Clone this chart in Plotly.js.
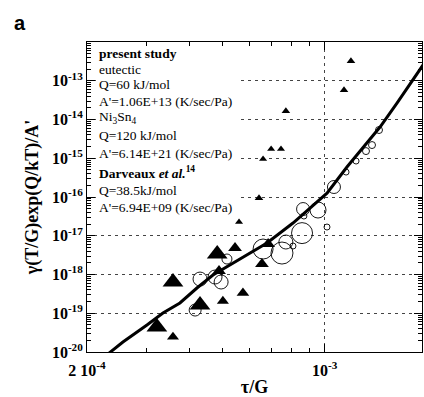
<!DOCTYPE html>
<html><head><meta charset="utf-8">
<script src="https://cdn.plot.ly/plotly-3.0.1.min.js"></script>
<style>html,body{margin:0;padding:0;background:#fff}#chart{width:424px;height:397px}</style>
</head><body><div id="chart"></div>
<script>
// ---- data ----
// eutectic / Ni3Sn4 / Darveaux data (filled triangles)
const triX = [1.195e-3, 1.140e-3, 7.69e-4, 6.96e-4, 7.44e-4, 6.59e-4, 6.41e-4, 5.60e-4,
              4.83e-4, 5.45e-4, 6.82e-4, 6.54e-4, 4.89e-4, 5.75e-4, 5.02e-4, 4.30e-4,
              3.58e-4, 3.21e-4, 3.58e-4];
const triY = [3.22e-13, 5.75e-14, 1.65e-14, 1.73e-15, 1.73e-15, 9.5e-16, 9.4e-17, 2.26e-17,
              3.37e-18, 4.82e-18, 6.11e-18, 1.86e-18, 1.23e-18, 3.32e-19, 2.07e-19, 1.63e-19,
              6.40e-19, 4.42e-20, 2.44e-20];
const triMarkerSize = [7.5, 7.5, 7.5, 7, 7, 7, 7.5, 7,
                       18, 12, 12, 12, 12, 11, 10.5, 18,
                       18, 18, 10.5];
// open circles
const circX = [1.445e-3, 1.378e-3, 1.323e-3, 1.237e-3, 1.156e-3, 1.065e-3, 8.64e-4, 9.56e-4,
               8.69e-4, 1.016e-3, 8.58e-4, 7.69e-4, 8.07e-4, 7.49e-4, 6.59e-4, 5.16e-4,
               4.30e-4, 4.76e-4, 4.96e-4, 4.16e-4];
const circY = [5.35e-15, 2.19e-15, 1.53e-15, 8.47e-16, 4.40e-16, 1.81e-16, 4.89e-17, 4.61e-17,
               3.23e-17, 1.68e-17, 1.17e-17, 6.89e-18, 5.43e-18, 3.58e-18, 4.54e-18, 2.51e-18,
               7.63e-19, 8.61e-19, 6.40e-19, 1.21e-19];
const circMarkerSize = [7, 7, 7, 6, 6, 13, 13, 16,
                        6, 6, 21, 14, 6, 22, 20, 10,
                        14, 14, 14, 12];
// fitted curve
const lineX = [2.305e-4, 2.551e-4, 3.002e-4, 3.345e-4, 3.753e-4, 4.211e-4, 4.694e-4, 5.909e-4,
               6.767e-4, 8.07e-4, 9.06e-4, 1.016e-3, 1.163e-3, 1.297e-3, 1.455e-3, 1.632e-3,
               1.819e-3, 1.973e-3];
const lineY = [8.88e-21, 1.81e-20, 4.98e-20, 1.01e-19, 1.84e-19, 4.48e-19, 9.71e-19, 3.18e-18,
               6.49e-18, 2.13e-17, 5.19e-17, 1.26e-16, 5.93e-16, 1.95e-15, 6.38e-15, 2.65e-14,
               1.04e-13, 3.03e-13];
// tick labels
const xTickVals = [2e-4, 1e-3];
const xTickText = ['2 10<sup>-4</sup>', '10<sup>-3</sup>'];
const yTickVals = [1e-20, 1e-19, 1e-18, 1e-17, 1e-16, 1e-15, 1e-14, 1e-13];
const yTickText = ['10<sup>-20</sup>', '10<sup>-19</sup>', '10<sup>-18</sup>', '10<sup>-17</sup>',
                   '10<sup>-16</sup>', '10<sup>-15</sup>', '10<sup>-14</sup>', '10<sup>-13</sup>'];
const xMinorVals = [3e-4, 4e-4, 5e-4, 6e-4, 7e-4, 8e-4, 9e-4];
const legendLines = ['<b>present study</b>', 'eutectic', 'Q=60 kJ/mol', "A'=1.06E+13 (K/sec/Pa)",
                     'Ni<sub>3</sub>Sn<sub>4</sub>', 'Q=120 kJ/mol', "A'=6.14E+21 (K/sec/Pa)",
                     '<b>Darveaux <i>et al.</i><sup>14</sup></b>', 'Q=38.5kJ/mol', "A'=6.94E+09 (K/sec/Pa)"];

// ---- layout helpers ----
const yMinorVals = [];
for (let k = -20; k <= -13; k++) for (let m = 2; m <= 9; m++) yMinorVals.push(m * Math.pow(10, k));
const PLOT_L = 87, PLOT_W = 335, PLOT_TOP = 42, PLOT_H = 310;
const legendPix = [53, 69, 85, 101, 117, 135, 153, 172, 190, 207];
const serif = 'Liberation Serif, Times New Roman, serif';

const traces = [
  {x: lineX, y: lineY, mode: 'lines', line: {color: '#000', width: 3}, hoverinfo: 'skip'},
  {x: circX, y: circY, mode: 'markers',
   marker: {symbol: 'circle-open', size: circMarkerSize, color: '#000', opacity: 1,
            line: {width: 0.9, color: '#000'}}},
  {x: triX, y: triY, mode: 'markers',
   marker: {symbol: 'triangle-up', size: triMarkerSize, color: '#000', opacity: 1, line: {width: 0}}}
];

// white panel behind the legend text (hides the upper grid lines like the reference)
const annotations = [{
  text: ' ', xref: 'paper', yref: 'paper', x: (96 - PLOT_L) / PLOT_W, y: 1 - (47 - PLOT_TOP) / PLOT_H,
  xanchor: 'left', yanchor: 'top', showarrow: false, width: 144, height: 167,
  bgcolor: '#fff', borderpad: 0, borderwidth: 0, font: {size: 4}
}];
legendLines.forEach((t, i) => annotations.push({
  text: t, xref: 'paper', yref: 'paper', x: (97 - PLOT_L) / PLOT_W, y: 1 - (legendPix[i] - PLOT_TOP) / PLOT_H,
  xanchor: 'left', yanchor: 'middle', showarrow: false,
  font: {family: serif, size: 13.5, color: '#000'}
}));
annotations.push({text: '<b>a</b>', xref: 'paper', yref: 'paper', x: (12 - PLOT_L) / PLOT_W, y: 1 + (PLOT_TOP - 23) / PLOT_H,
  xanchor: 'left', yanchor: 'middle', showarrow: false,
  font: {family: 'Liberation Sans, Arial, sans-serif', size: 20, color: '#000'}});

const axisCommon = {
  type: 'log', showline: true, linecolor: '#000', linewidth: 1, mirror: 'allticks',
  ticks: 'inside', ticklen: 8, tickwidth: 1, tickcolor: '#000',
  showgrid: true, gridcolor: '#444', gridwidth: 1, griddash: '3px,4px', zeroline: false,
  tickfont: {family: serif, size: 16, color: '#000', weight: 'bold'},
  tickmode: 'array', automargin: false
};

const layout = {
  width: 424, height: 397,
  margin: {l: 87, r: 2, t: 42, b: 45},
  paper_bgcolor: '#fff', plot_bgcolor: '#fff', showlegend: false,
  xaxis: Object.assign({}, axisCommon, {
    range: [Math.log10(2e-4), -2.7137], tickvals: xTickVals, ticktext: xTickText,
    ticklabelstandoff: 4,
    minor: {tickvals: xMinorVals, ticks: 'inside', ticklen: 4, tickcolor: '#000', showgrid: false},
    title: {text: '<b>τ/G</b>', font: {family: serif, size: 18, color: '#000'}, standoff: 6}
  }),
  yaxis: Object.assign({}, axisCommon, {
    range: [-20, -12], tickvals: yTickVals, ticktext: yTickText,
    minor: {tickvals: yMinorVals, ticks: 'inside', ticklen: 4, tickcolor: '#000', showgrid: false},
    title: {text: "<b>γ(T/G)exp(Q/kT)/A'</b>", font: {family: serif, size: 18, color: '#000'}, standoff: 8}
  }),
  annotations: annotations
};

Plotly.newPlot('chart', traces, layout, {staticPlot: true, displayModeBar: false});
</script>
</body></html>
